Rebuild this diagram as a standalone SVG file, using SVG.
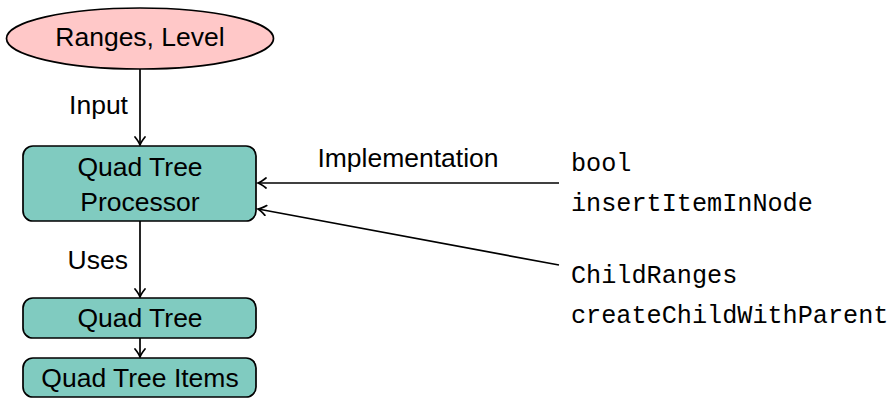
<svg xmlns="http://www.w3.org/2000/svg" width="891" height="398" viewBox="0 0 891 398">
<defs>
<style>
.n{fill:#80cbc0;stroke:#000;stroke-width:1.7}
.t{font-family:"Liberation Sans",Arial,sans-serif;font-size:26.5px;fill:#000}
.m{font-family:"Liberation Mono","Courier New",monospace;font-size:25.2px;fill:#000}
.c{stroke:#000;stroke-width:1.7;fill:none;marker-end:url(#ah)}
</style>
<marker id="ah" viewBox="-10 -6 12 12" refX="0" refY="0" markerWidth="12" markerHeight="12" markerUnits="userSpaceOnUse" orient="auto">
<path d="M-8,-5 Q-3,-1 0,0 Q-3,1 -8,5" fill="none" stroke="#000" stroke-width="1.7" stroke-linecap="round"/>
</marker>
</defs>
<g id="connectors">
<path class="c" d="M140,69 L140,145"/>
<path class="c" d="M140,221 L140,297"/>
<path class="c" d="M140,338 L140,357"/>
<path class="c" d="M559,183 L258,183"/>
<path class="c" d="M559,265 L258,209"/>
<text class="t" x="128" y="114" text-anchor="end">Input</text>
<text class="t" x="128" y="269" text-anchor="end">Uses</text>
<text class="t" x="408" y="167" text-anchor="middle">Implementation</text>
</g>
<g id="ranges">
<ellipse cx="140" cy="38.5" rx="133.5" ry="30.5" fill="#ffc8c8" stroke="#000" stroke-width="1.7"/>
<text class="t" x="140" y="46" text-anchor="middle">Ranges, Level</text>
</g>
<g id="processor">
<rect class="n" x="23" y="146" width="233" height="75" rx="10"/>
<text class="t" x="140" y="176" text-anchor="middle">Quad Tree</text>
<text class="t" x="140" y="211" text-anchor="middle">Processor</text>
</g>
<g id="quadtree">
<rect class="n" x="23" y="298" width="233" height="40" rx="10"/>
<text class="t" x="140" y="327" text-anchor="middle">Quad Tree</text>
</g>
<g id="items">
<rect class="n" x="23" y="358" width="233" height="39" rx="10"/>
<text class="t" x="140" y="387" text-anchor="middle">Quad Tree Items</text>
</g>
<g id="impl1">
<text class="m" x="571" y="171">bool</text>
<text class="m" x="571" y="211">insertItemInNode</text>
</g>
<g id="impl2">
<text class="m" x="571" y="283">ChildRanges</text>
<text class="m" x="571" y="323">createChildWithParent</text>
</g>
</svg>
